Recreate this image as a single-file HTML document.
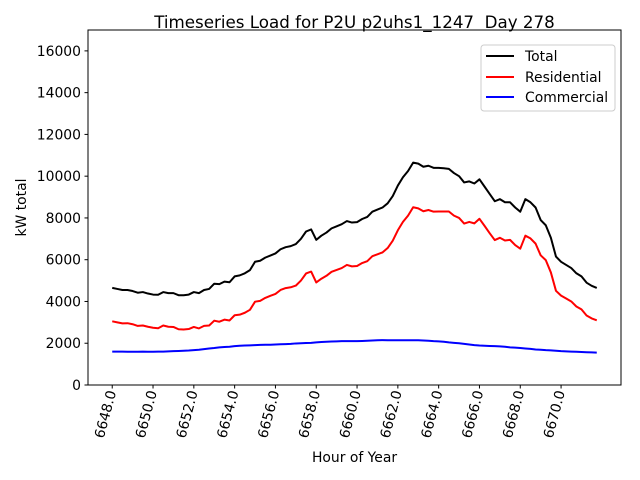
<!DOCTYPE html>
<html><head><meta charset="utf-8"><style>
html,body{margin:0;padding:0;background:#fff;}
svg{display:block;font-family:"DejaVu Sans","Liberation Sans",sans-serif;}
</style></head><body>
<svg id="chart" width="640" height="480" viewBox="0 0 640 480">
<rect width="640" height="480" fill="#fff"/>
<text x="354.5" y="28" font-size="16.7" text-anchor="middle">Timeseries Load for P2U p2uhs1_1247&#160; Day 278</text>
<g id="grid"></g>
<g id="series"></g>
<rect x="88" y="30" width="533" height="355" fill="none" stroke="#000" stroke-width="1"/>
<g id="axes"></g>
<text x="354.5" y="462" font-size="13.9" text-anchor="middle">Hour of Year</text>
<text transform="translate(26,207.5) rotate(-90)" font-size="13.9" text-anchor="middle">kW total</text>
<g>
<rect x="481" y="45" width="134" height="66" rx="3" fill="#fff" fill-opacity="0.8" stroke="#ccc"/>
<line x1="486" y1="56" x2="514" y2="56" stroke="#000" stroke-width="2"/>
<text x="525" y="61" font-size="13.9">Total</text>
<line x1="486" y1="77" x2="514" y2="77" stroke="#ff0000" stroke-width="2"/>
<text x="525" y="82" font-size="13.9">Residential</text>
<line x1="486" y1="97" x2="514" y2="97" stroke="#0000ff" stroke-width="2"/>
<text x="525" y="102" font-size="13.9">Commercial</text>
</g>
</svg>
<script>
const startHour = 6648;
const stepHours = 0.25;
const xTicks = [6648,6650,6652,6654,6656,6658,6660,6662,6664,6666,6668,6670];
const xTickLabels = ["6648.0","6650.0","6652.0","6654.0","6656.0","6658.0","6660.0","6662.0","6664.0","6666.0","6668.0","6670.0"];
const yTicks = [0,2000,4000,6000,8000,10000,12000,14000,16000];
const yTickLabels = ["0","2000","4000","6000","8000","10000","12000","14000","16000"];
const totalValues = [4650,4600,4550,4550, 4500,4420,4450,4380, 4330,4320,4450,4400, 4400,4300,4300,4330,
4450,4400,4550,4600, 4850,4830,4950,4920, 5200,5250,5350,5500, 5900,5950,6100,6200,
6300,6500,6600,6650, 6750,7000,7350,7450, 6950,7150,7300,7500, 7600,7700,7850,7780,
7800,7950,8050,8300, 8400,8500,8700,9050, 9550,9950,10250,10650, 10600,10450,10500,10400,
10400,10380,10350,10150, 10000,9700,9750,9650, 9850,9500,9150,8800, 8900,8750,8750,8500,
8300,8900,8750,8500, 7900,7650,7050,6150, 5900,5750,5600,5350, 5200,4900,4750,4650];
const residentialValues = [3050,3000,2950,2960, 2910,2830,2850,2790, 2740,2720,2850,2790, 2780,2670,2660,2680,
2780,2710,2830,2850, 3080,3030,3130,3090, 3340,3370,3460,3600, 3990,4030,4170,4270,
4360,4550,4640,4680, 4760,5000,5340,5430, 4910,5090,5230,5420, 5510,5600,5750,5680,
5700,5840,5930,6170, 6260,6350,6560,6910, 7410,7810,8110,8510, 8460,8320,8380,8300,
8310,8310,8310,8110, 8000,7730,7810,7740, 7960,7620,7270,6940, 7050,6920,6950,6700,
6530,7150,7020,6770, 6210,5980,5390,4510, 4280,4140,4000,3760, 3620,3330,3190,3100];
const commercialValues = [1600,1600,1600,1590, 1590,1590,1600,1590, 1590,1600,1600,1610, 1620,1630,1640,1650,
1670,1690,1720,1750, 1770,1800,1820,1830, 1860,1880,1890,1900, 1910,1920,1930,1930,
1940,1950,1960,1970, 1990,2000,2010,2020, 2040,2060,2070,2080, 2090,2100,2100,2100,
2100,2110,2120,2130, 2140,2150,2140,2140, 2140,2140,2140,2140, 2140,2130,2120,2100,
2090,2070,2040,2020, 2000,1970,1940,1910, 1890,1880,1870,1860, 1850,1830,1800,1790,
1770,1750,1730,1700, 1690,1670,1660,1640, 1620,1610,1600,1590, 1580,1570,1560,1550];

const NS = "http://www.w3.org/2000/svg";
const X0 = 88, X1 = 621, Y0 = 385, Y1 = 30;
const n = totalValues.length;
const xmin0 = startHour, xmax0 = startHour + (n - 1) * stepHours;
const pad = (xmax0 - xmin0) * 0.05;
const xmin = xmin0 - pad, xmax = xmax0 + pad;
const ymin = 0, ymax = 17000;
function xScale(v){ return X0 + (v - xmin) / (xmax - xmin) * (X1 - X0); }
function yScale(v){ return Y0 - (v - ymin) / (ymax - ymin) * (Y0 - Y1); }

const axes = document.getElementById('axes');
xTicks.forEach((t, i) => {
  const x = xScale(t);
  const ln = document.createElementNS(NS, 'line');
  ln.setAttribute('x1', x); ln.setAttribute('x2', x);
  ln.setAttribute('y1', Y0); ln.setAttribute('y2', Y0 + 3.5);
  ln.setAttribute('stroke', '#000');
  
  
  axes.appendChild(ln);
  const tx = document.createElementNS(NS, 'text');
  tx.setAttribute('transform', `translate(${x + 4},${Y0 + 7}) rotate(-75)`);
  tx.setAttribute('text-anchor', 'end');
  tx.setAttribute('font-size', '13.9');
  tx.textContent = xTickLabels[i];
  
  
  axes.appendChild(tx);
});
yTicks.forEach((t, i) => {
  const y = yScale(t);
  const ln = document.createElementNS(NS, 'line');
  ln.setAttribute('x1', X0 - 3.5); ln.setAttribute('x2', X0);
  ln.setAttribute('y1', y); ln.setAttribute('y2', y);
  ln.setAttribute('stroke', '#000');
  
  
  axes.appendChild(ln);
  const tx = document.createElementNS(NS, 'text');
  tx.setAttribute('x', X0 - 7);
  tx.setAttribute('y', y + 5);
  tx.setAttribute('text-anchor', 'end');
  tx.setAttribute('font-size', '13.9');
  tx.textContent = yTickLabels[i];
  
  
  axes.appendChild(tx);
});

const series = document.getElementById('series');
function drawLine(vals, color, name){
  const pts = vals.map((v, i) => xScale(startHour + i * stepHours).toFixed(2) + ',' + yScale(v).toFixed(2)).join(' ');
  const pl = document.createElementNS(NS, 'polyline');
  pl.setAttribute('points', pts);
  pl.setAttribute('fill', 'none');
  pl.setAttribute('stroke', color);
  pl.setAttribute('stroke-width', '2');
  pl.setAttribute('stroke-linejoin', 'round');
  
  
  series.appendChild(pl);
}
drawLine(totalValues, '#000000', 'total-line');
drawLine(residentialValues, '#ff0000', 'residential-line');
drawLine(commercialValues, '#0000ff', 'commercial-line');
</script>
</body></html>
